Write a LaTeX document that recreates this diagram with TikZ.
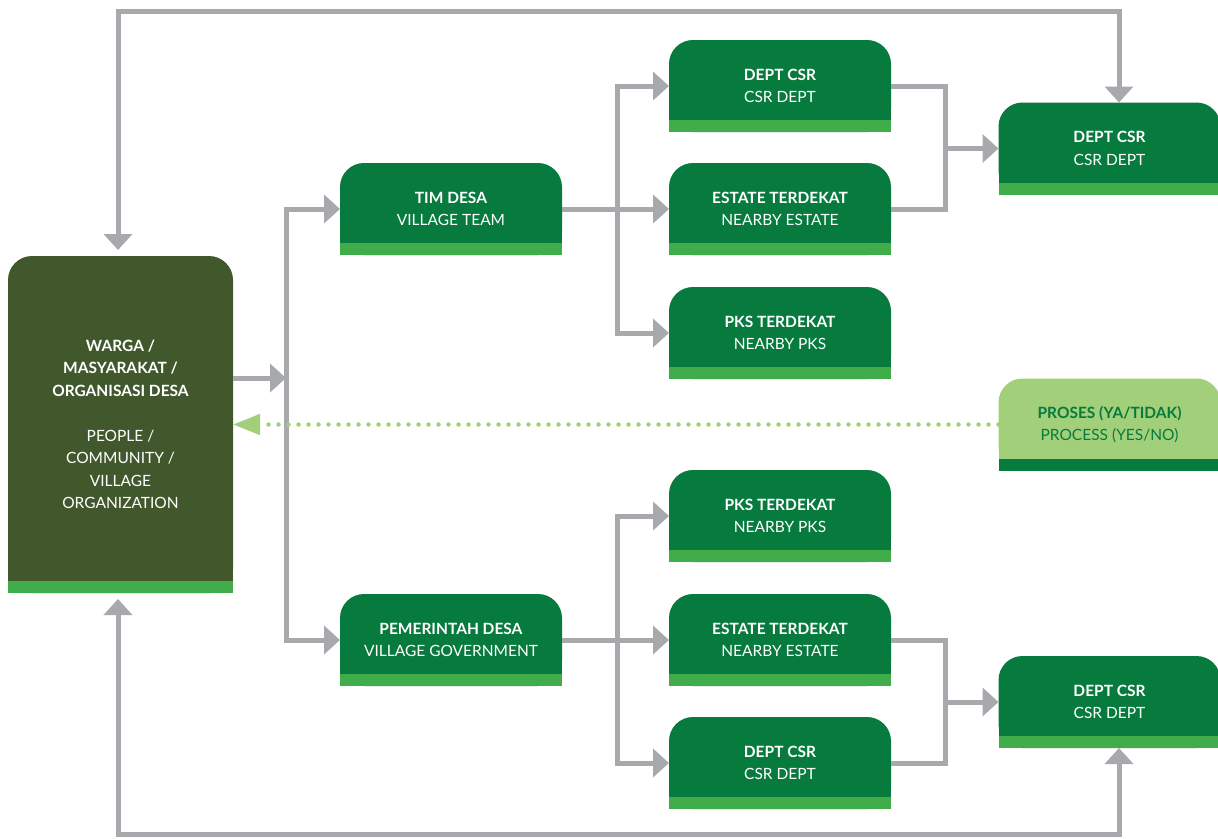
\documentclass[tikz,border=0pt]{standalone}
\usepackage{fontspec}
\setmainfont{Lato}
\usetikzlibrary{positioning,arrows.meta,backgrounds}
\definecolor{csrgreen}{HTML}{077A3E}
\definecolor{stripgreen}{HTML}{40AD4A}
\definecolor{wargagreen}{HTML}{41582D}
\definecolor{prosesgreen}{HTML}{A2CF7A}
\definecolor{linkgray}{HTML}{A7A9AC}
\newcommand{\boxbg}[3]{%
    \fill[#2, rounded corners=24pt] (#1.south west) rectangle (#1.north east);
    \fill[#2] (#1.west) rectangle (#1.south east);
    \fill[#3] (#1.south west) rectangle ([yshift=12pt]#1.south east);
}

\begin{document}
\begin{tikzpicture}[x=1pt, y=-1pt,
    box/.style={rectangle, minimum width=222pt, minimum height=92pt, inner sep=0pt, outer sep=0pt, align=center, text=white, font=\fontsize{15.5}{22.5}\selectfont},
    link/.style={draw=linkgray, line width=5pt},
    arr/.style={-{Triangle[length=16pt,width=28pt]}},
    both/.style={{Triangle[length=16pt,width=28pt]}-{Triangle[length=16pt,width=28pt]}},
    hint/.style={draw=prosesgreen, line width=4.5pt, line cap=round, dash pattern=on 0pt off 10pt, -{Triangle[length=27pt,width=20pt,fill=prosesgreen]}}]
    \useasboundingbox (0,0) rectangle (1218,838);

    \node[box, minimum width=225pt, minimum height=337pt] (warga) at (120.5,424.5) {\textbf{WARGA /}\\\textbf{MASYARAKAT /}\\\textbf{ORGANISASI DESA}\\[22.5pt]PEOPLE /\\COMMUNITY /\\VILLAGE\\ORGANIZATION};

    \node[box] (timdesa) at (451,209) {\textbf{TIM DESA}\\VILLAGE TEAM};
    \node[box, right=107pt of timdesa] (estate1) {\textbf{ESTATE TERDEKAT}\\NEARBY ESTATE};
    \node[box, above=31pt of estate1] (dept1) {\textbf{DEPT CSR}\\CSR DEPT};
    \node[box, below=32pt of estate1] (pks1) {\textbf{PKS TERDEKAT}\\NEARBY PKS};

    \node[box] (pemdesa) at (451,640) {\textbf{PEMERINTAH DESA}\\VILLAGE GOVERNMENT};
    \node[box, right=107pt of pemdesa] (estate2) {\textbf{ESTATE TERDEKAT}\\NEARBY ESTATE};
    \node[box, above=32pt of estate2] (pks2) {\textbf{PKS TERDEKAT}\\NEARBY PKS};
    \node[box, below=31pt of estate2] (dept2) {\textbf{DEPT CSR}\\CSR DEPT};

    \node[box] (csr1) at (1109.5,148.5) {\textbf{DEPT CSR}\\CSR DEPT};
    \node[box, text=csrgreen] (proses) at (1109.5,424.5) {\textbf{PROSES (YA/TIDAK)}\\PROCESS (YES/NO)};
    \node[box] (csr2) at (1109.5,702) {\textbf{DEPT CSR}\\CSR DEPT};

    \begin{scope}[on background layer]
        \foreach \n in {timdesa,estate1,dept1,pks1,pemdesa,estate2,pks2,dept2,csr1,csr2} {\boxbg{\n}{csrgreen}{stripgreen}}
        \boxbg{warga}{wargagreen}{stripgreen}
        \boxbg{proses}{prosesgreen}{csrgreen}
    \end{scope}

    \coordinate (busA) at (286,378);
    \coordinate (busB) at (617,209);
    \coordinate (busC) at (617,640);
    \coordinate (joinA) at (945,148.5);
    \coordinate (joinB) at (945,702);
    \coordinate (loopA) at (118,11);
    \coordinate (loopB) at (1119,11);
    \coordinate (loopC) at (118,834);
    \coordinate (loopD) at (1119,834);

    \draw[link, both, shorten <=6pt] (warga.north -| loopA) -- (loopA) -- (loopB) -- (csr1.north -| loopB);
    \draw[link, both, shorten <=6pt] (warga.south -| loopC) -- (loopC) -- (loopD) -- (csr2.south -| loopD);

    \draw[link, arr] (warga.east |- busA) -- (busA);
    \draw[link, arr] (busA) |- (timdesa.west);
    \draw[link, arr] (busA) |- (pemdesa.west);

    \draw[link, arr] (timdesa.east) -- (estate1.west);
    \draw[link, arr] (busB) |- (dept1.west);
    \draw[link, arr] (busB) |- (pks1.west);
    \draw[link, arr] (pemdesa.east) -- (estate2.west);
    \draw[link, arr] (busC) |- (pks2.west);
    \draw[link, arr] (busC) |- (dept2.west);

    \draw[link] (dept1.east) -| (joinA) |- (estate1.east);
    \draw[link, arr] (joinA) -- (csr1.west);
    \draw[link] (estate2.east) -| (joinB) |- (dept2.east);
    \draw[link, arr] (joinB) -- (csr2.west);

    \draw[hint] (proses.west) -- (warga.east);
\end{tikzpicture}
\end{document}
